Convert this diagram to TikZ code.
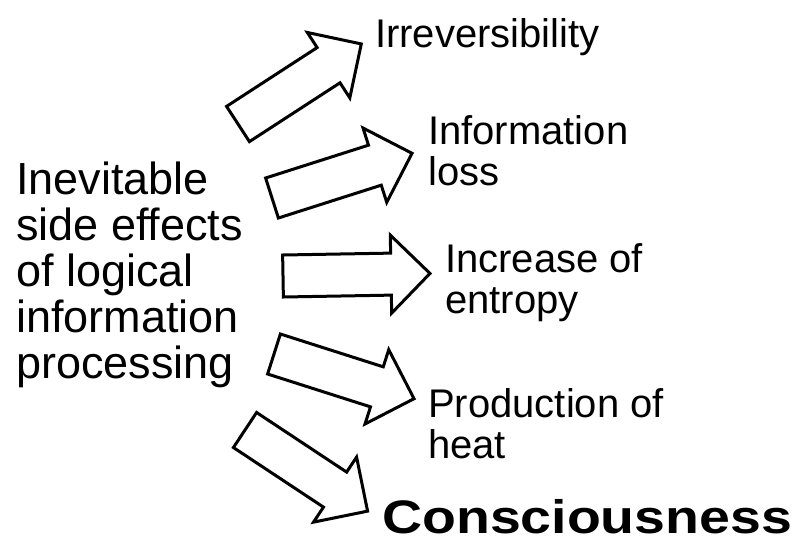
\documentclass[tikz,border=0pt]{standalone}
\usepackage{fontspec}
\setmainfont{Liberation Sans}
\newfontfamily\consfont[FakeStretch=1.18]{Liberation Sans}
\usetikzlibrary{shapes.arrows}

\begin{document}
\begin{tikzpicture}[
  x=1pt, y=-1pt,
  bigarrow/.style={single arrow, draw=black, fill=white, line width=3pt,
                   minimum height=147pt, minimum width=0pt,
                   text height=39pt, text depth=0pt,
                   single arrow head extend=18pt, single arrow tip angle=90,
                   inner sep=0pt, outer sep=0pt, anchor=tail},
  lefttext/.style={anchor=north west, align=left, inner sep=0pt,
                   font=\fontsize{45}{46}\selectfont},
  effect/.style={anchor=north west, align=left, inner sep=0pt,
                 font=\fontsize{40}{41}\selectfont},
]
\useasboundingbox (0,0) rectangle (799,544);

\node[lefttext] (sideeffects) at (16,162) {Inevitable\\side effects\\of logical\\information\\processing};

% the five block arrows
\node[bigarrow, rotate=33] (toirrev) at (238,124) {};
\node[bigarrow, rotate=17.7] (toloss) at (272,198) {};
\node[bigarrow, rotate=1] (toentropy) at (283,276) {};
\node[bigarrow, rotate=-17.7] (toheat) at (274,354) {};
\node[bigarrow, rotate=-33.5] (toconsc) at (245,430) {};

\node[effect] (irrev) at (375,18) {Irreversibility};
\node[effect] (loss) at (428,115) {Information\\loss};
\node[effect] (entropy) at (445,243) {Increase of\\entropy};
\node[effect] (heat) at (428,388) {Production of\\heat};
\node[anchor=north west, inner sep=0pt,
      font=\consfont\bfseries\fontsize{47}{48}\selectfont] (consc) at (382,499) {Consciousness};
\end{tikzpicture}
\end{document}
